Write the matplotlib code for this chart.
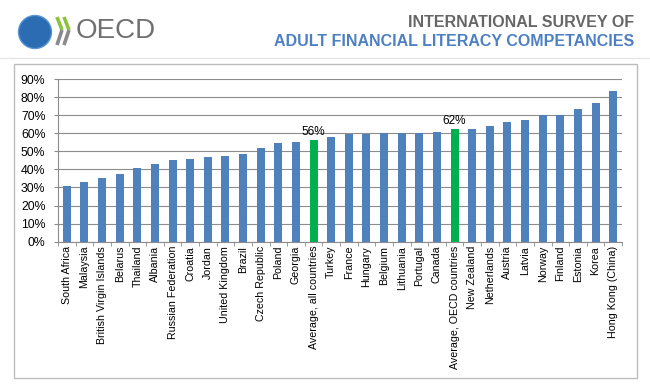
import numpy as np
import matplotlib.pyplot as plt
from matplotlib.patches import Rectangle, Ellipse
from matplotlib.ticker import FuncFormatter

countries = ["South Africa", "Malaysia", "British Virgin Islands", "Belarus", "Thailand",
             "Albania", "Russian Federation", "Croatia", "Jordan", "United Kingdom",
             "Brazil", "Czech Republic", "Poland", "Georgia", "Average, all countries",
             "Turkey", "France", "Hungary", "Belgium", "Lithuania", "Portugal", "Canada",
             "Average, OECD countries", "New Zealand", "Netherlands", "Austria", "Latvia",
             "Norway", "Finland", "Estonia", "Korea", "Hong Kong (China)"]
scores = [31.0, 33.0, 35.2, 37.5, 41.0, 43.0, 45.2, 45.6, 46.8, 47.2, 48.3, 52.0,
          54.6, 55.0, 56.1, 57.7, 59.8, 59.8, 60.0, 60.0, 60.3, 60.9, 62.2, 62.4,
          63.8, 66.4, 67.5, 69.9, 69.9, 73.4, 76.6, 83.6]
highlight = ["Average, all countries", "Average, OECD countries"]
yticks = [0, 10, 20, 30, 40, 50, 60, 70, 80, 90]

blue = "#4f81bd"
green = "#00b050"
W, H = 650, 387

plt.rcParams['font.family'] = ['Liberation Sans', 'DejaVu Sans']
fig = plt.figure(figsize=(W / 100, H / 100), dpi=100)

def fx(px):
    return px / W

def fy(py):
    return 1 - py / H

# header
fig.add_artist(plt.Line2D([0.0, 1.0], [fy(58), fy(58)], color="#e6e6e6", lw=1))
fig.add_artist(Ellipse((fx(35), fy(32)), 33 / W, 33 / H, transform=fig.transFigure,
                       facecolor="#2c6cb3", edgecolor="#5b95d0", lw=1))
for i in range(2):
    x0 = 57 + i * 7
    fig.add_artist(plt.Line2D([fx(x0), fx(x0 + 5)], [fy(17), fy(30)], color="#8cc43f", lw=2.6,
                              solid_capstyle="butt"))
    fig.add_artist(plt.Line2D([fx(x0 + 5), fx(x0)], [fy(30), fy(45)], color="#8a8a8a", lw=2.6,
                              solid_capstyle="butt"))
fig.text(fx(76), fy(31), "OECD", fontsize=20, color="#707070", va="center", ha="left")
fig.text(fx(634), fy(22.5), "INTERNATIONAL SURVEY OF", fontsize=11.5,
         color="#666666", weight="bold", ha="right", va="center")
fig.text(fx(634), fy(41.5), "ADULT FINANCIAL LITERACY COMPETANCIES", fontsize=11.5,
         color="#4d80c2", weight="bold", ha="right", va="center")

# chart frame
fig.add_artist(Rectangle((fx(14), fy(378)), 623 / W, 314 / H, transform=fig.transFigure,
                         fill=False, edgecolor="#bdbdbd", lw=1))

ax = fig.add_axes((fx(58), fy(241.7), 564 / W, 162.7 / H))
x = np.arange(len(countries))
colors = [green if c in highlight else blue for c in countries]
ax.bar(x, scores, width=0.45, color=colors, zorder=3)

for i, c in enumerate(countries):
    if c in highlight:
        ax.text(x[i], scores[i] + 1.5, f"{round(scores[i])}%", ha="center", va="bottom",
                fontsize=8.5)

ax.set_ylim(0, 90)
ax.set_xlim(-0.5, len(countries) - 0.5)
ax.set_yticks(yticks)
ax.yaxis.set_major_formatter(FuncFormatter(lambda v, p: f"{int(v)}%"))
ax.grid(axis="y", color="#8c8c8c", lw=0.8, zorder=0)
ax.set_xticks(x)
ax.set_xticklabels(countries, rotation=90, fontsize=7.7)
ax.set_xticks(np.arange(-0.5, len(countries), 1), minor=True)
ax.tick_params(axis="x", which="major", length=0, pad=3)
ax.tick_params(axis="x", which="minor", length=3, color="#8c8c8c")
ax.tick_params(axis="y", length=3, color="#8c8c8c", labelsize=8.8, pad=6)
for s in ["top", "right"]:
    ax.spines[s].set_visible(False)
ax.spines["left"].set_color("#8c8c8c")
ax.spines["bottom"].set_color("#8c8c8c")

fig.savefig("out.png", dpi=100)
